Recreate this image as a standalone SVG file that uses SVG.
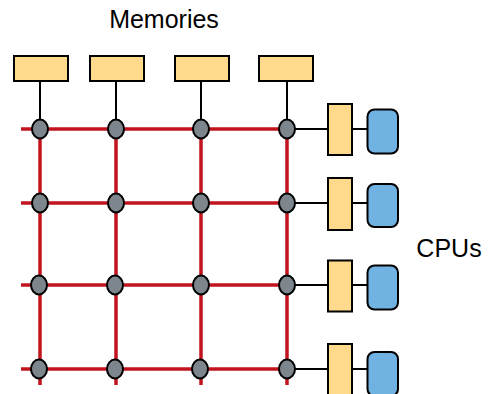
<svg xmlns="http://www.w3.org/2000/svg" width="490" height="394" viewBox="0 0 490 394">
<defs>
<style>
.grid{stroke:#C1141E;stroke-width:3.5;fill:none}
.wire{stroke:#000;stroke-width:2;fill:none}
.mem{fill:#FFD98C;stroke:#000;stroke-width:2}
.cache{fill:#FFD98C;stroke:#000;stroke-width:2}
.cpu{fill:#70B2E2;stroke:#000;stroke-width:2}
.node{fill:#7E868D;stroke:#000;stroke-width:2}
.lbl{font-family:"Liberation Sans",Arial,sans-serif;font-size:25px;fill:#000}
</style>
</defs>
<rect width="490" height="394" fill="#fff"/>
<g id="connectors">
<path class="grid" d="M21 129H287M21 203H287M21 285H287M21 369H287"/>
<path class="grid" d="M40 129V385M116 129V385M201 129V385M287 129V385"/>
<path class="wire" d="M40 81V120M116 81V120M201 81V120M287 81V120"/>
<path class="wire" d="M287 129H328M352 129H367M287 203H328M352 203H367M287 285H328M352 285H367M287 369H328M352 369H367"/>
</g>
<g id="memories">
<rect class="mem" x="14" y="56" width="54" height="25"/>
<rect class="mem" x="90" y="56" width="54" height="25"/>
<rect class="mem" x="175" y="56" width="54" height="25"/>
<rect class="mem" x="259" y="56" width="54" height="25"/>
</g>
<g id="nodes">
<ellipse class="node" cx="40" cy="129" rx="8" ry="9.5"/>
<ellipse class="node" cx="116" cy="129" rx="8" ry="9.5"/>
<ellipse class="node" cx="201" cy="129" rx="8" ry="9.5"/>
<ellipse class="node" cx="287" cy="129" rx="8" ry="9.5"/>
<ellipse class="node" cx="40" cy="203" rx="8" ry="9.5"/>
<ellipse class="node" cx="116" cy="203" rx="8" ry="9.5"/>
<ellipse class="node" cx="201" cy="203" rx="8" ry="9.5"/>
<ellipse class="node" cx="287" cy="203" rx="8" ry="9.5"/>
<ellipse class="node" cx="39" cy="285" rx="8" ry="9.5"/>
<ellipse class="node" cx="115" cy="285" rx="8" ry="9.5"/>
<ellipse class="node" cx="201" cy="285" rx="8" ry="9.5"/>
<ellipse class="node" cx="287" cy="285" rx="8" ry="9.5"/>
<ellipse class="node" cx="39" cy="369" rx="8" ry="9.5"/>
<ellipse class="node" cx="115" cy="369" rx="8" ry="9.5"/>
<ellipse class="node" cx="200" cy="369" rx="8" ry="9.5"/>
<ellipse class="node" cx="287" cy="369" rx="8" ry="9.5"/>
</g>
<g id="cpus">
<rect class="cache" x="328" y="104" width="24" height="51"/>
<rect class="cpu" x="367.5" y="109.5" width="30.5" height="44" rx="7"/>
<rect class="cache" x="328" y="178" width="24" height="52"/>
<rect class="cpu" x="367.5" y="184" width="30.5" height="43" rx="7"/>
<rect class="cache" x="328" y="260.5" width="24" height="51"/>
<rect class="cpu" x="367.5" y="265.5" width="30.5" height="44" rx="7"/>
<rect class="cache" x="328" y="344" width="24" height="51"/>
<rect class="cpu" x="367.5" y="352" width="30.5" height="44" rx="7"/>
</g>
<g id="labels">
<text class="lbl" x="164" y="28" text-anchor="middle">Memories</text>
<text class="lbl" x="449" y="257" text-anchor="middle">CPUs</text>
</g>
</svg>
